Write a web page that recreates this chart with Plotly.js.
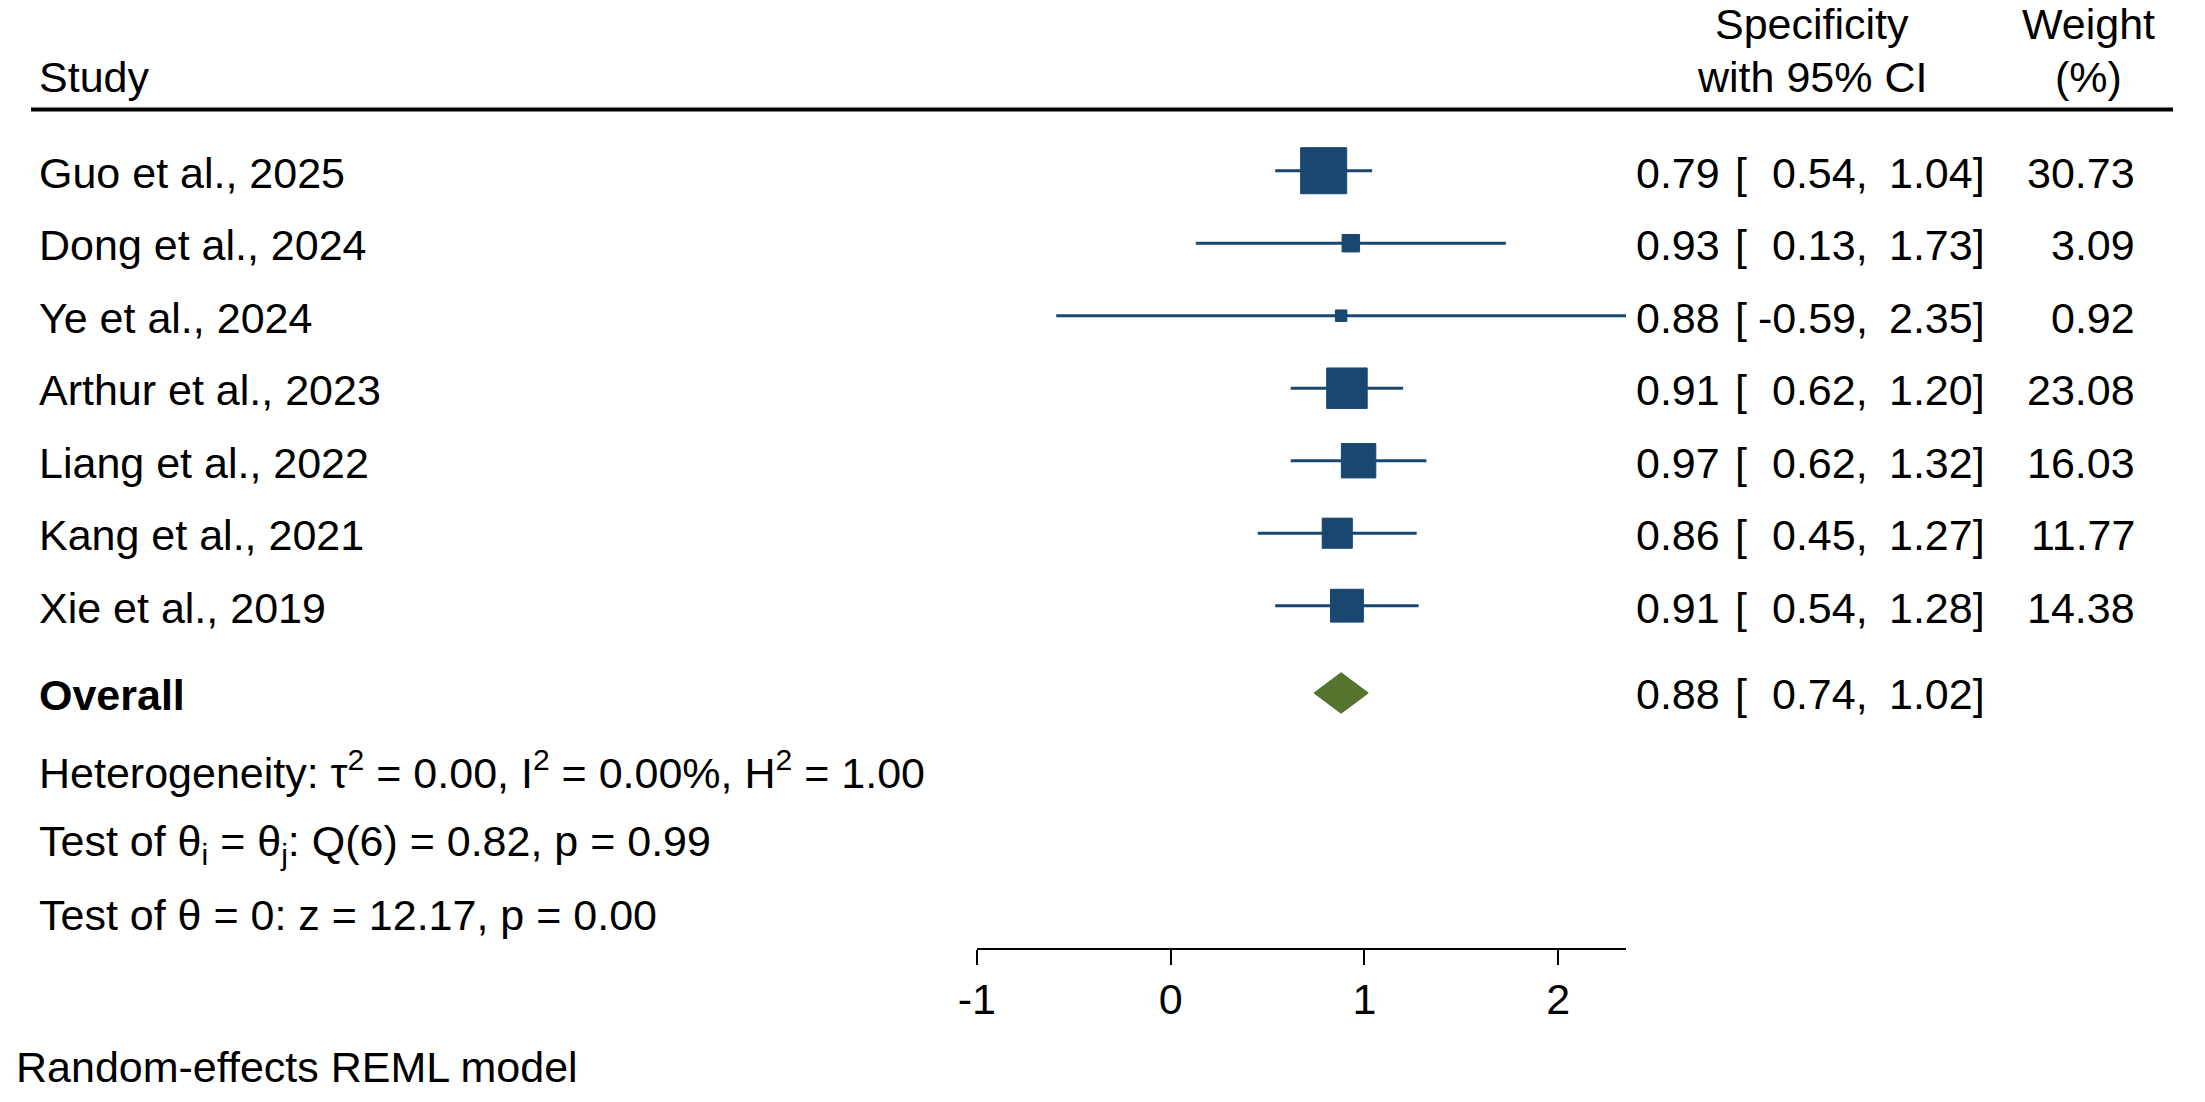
<!DOCTYPE html>
<html>
<head>
<meta charset="utf-8">
<script src="https://cdn.plot.ly/plotly-3.0.1.min.js"></script>
<style>html,body{margin:0;padding:0;background:#fff;}</style>
</head>
<body>
<div id="chart" style="width:2205px;height:1102px;"></div>
<script>
// Forest plot: study-level specificity with 95% CI, random-effects REML
const studies = ["Guo et al., 2025", "Dong et al., 2024", "Ye et al., 2024", "Arthur et al., 2023",
                 "Liang et al., 2022", "Kang et al., 2021", "Xie et al., 2019"];
const estimate = [0.79, 0.93, 0.88, 0.91, 0.97, 0.86, 0.91];
const ciLower  = [0.54, 0.13, -0.59, 0.62, 0.62, 0.45, 0.54];
const ciUpper  = [1.04, 1.73, 2.35, 1.20, 1.32, 1.27, 1.28];
const weights  = [30.73, 3.09, 0.92, 23.08, 16.03, 11.77, 14.38];

const overallEst = 0.88;
const overallLower = 0.74;
const overallUpper = 1.02;

const tickValues = [-1, 0, 1, 2];
const tickLabels = ["-1", "0", "1", "2"];

const headerEffect = ["Specificity", "with 95% CI"];
const headerWeight = ["Weight", "(%)"];
const statLines = [
  "Heterogeneity: \u03C4<sup>2</sup> = 0.00, I<sup>2</sup> = 0.00%, H<sup>2</sup> = 1.00",
  "Test of \u03B8<sub>i</sub> = \u03B8<sub>j</sub>: Q(6) = 0.82, p = 0.99",
  "Test of \u03B8 = 0: z = 12.17, p = 0.00"
];
const footNote = "Random-effects REML model";

// ---- geometry (page pixels) ----
const W = 2205, H = 1102;
const rowY = i => 170.7 + 72.5 * i;
const overallY = 693;
const statY = [770, 844, 915];
const NAVY = "#1a476f";
const GREEN = "#55752f";
const FONT = { family: "Liberation Sans, Arial, sans-serif", size: 43, color: "#000" };
const fmt = v => v.toFixed(2);

// ---- traces ----
const ciX = [], ciY = [];
estimate.forEach((_, i) => {
  ciX.push(ciLower[i], ciUpper[i], null);
  ciY.push(rowY(i), rowY(i), null);
});
const ciTrace = {
  type: "scatter", mode: "lines", x: ciX, y: ciY,
  line: { color: NAVY, width: 3 }, hoverinfo: "skip", showlegend: false
};
const boxTrace = {
  type: "scatter", mode: "markers",
  x: estimate, y: estimate.map((_, i) => rowY(i)),
  marker: {
    symbol: "square", color: NAVY, opacity: 1,
    size: weights.map(w => 4.25 + 7.54 * Math.sqrt(w)),
    line: { color: NAVY, width: 1 }
  },
  cliponaxis: false, showlegend: false
};
const diamondHalf = 20.3;
const diamondTrace = {
  type: "scatter", mode: "lines",
  x: [overallLower, overallEst, overallUpper, overallEst, overallLower],
  y: [overallY, overallY - diamondHalf, overallY, overallY + diamondHalf, overallY],
  fill: "toself", fillcolor: GREEN,
  line: { color: "#4d6b2a", width: 1 }, showlegend: false, hoverinfo: "skip"
};

// ---- text columns ----
const annotations = [];
function ann(text, x, y, xanchor, extra) {
  annotations.push(Object.assign({
    text: text, x: x / W, y: 1 - y / H, xref: "paper", yref: "paper",
    xanchor: xanchor, yanchor: "middle", showarrow: false,
    font: FONT, borderpad: 0
  }, extra || {}));
}

const TEXT_DY = 2;
ann("Study", 38, 77, "left");
ann(headerEffect[0], 1812, 24, "center");
ann(headerEffect[1], 1812, 77, "center");
ann(headerWeight[0], 2088, 24, "center");
ann(headerWeight[1], 2088, 77, "center");

function ciColumns(est, lo, hi, y) {
  ann(fmt(est), 1721, y, "right");
  ann("[", 1734, y, "left");
  ann(fmt(lo) + ",", 1869, y, "right");
  ann(fmt(hi) + "]", 1986, y, "right");
}

studies.forEach((s, i) => {
  const y = rowY(i) + TEXT_DY;
  ann(s, 38, y, "left");
  ciColumns(estimate[i], ciLower[i], ciUpper[i], y);
  ann(fmt(weights[i]), 2136, y, "right");
});

ann("<b>Overall</b>", 38, overallY + 2, "left");
ciColumns(overallEst, overallLower, overallUpper, overallY + 1);

statLines.forEach((t, i) => ann(t, 38, statY[i], "left"));
ann(footNote, 15, 1067, "left");

const layout = {
  width: W, height: H,
  margin: { l: 0, r: 0, t: 0, b: 0, pad: 0 },
  paper_bgcolor: "#fff", plot_bgcolor: "rgba(0,0,0,0)",
  showlegend: false,
  font: FONT,
  xaxis: {
    domain: [976.8 / W, 1626 / W], range: [-1, 2.35],
    anchor: "free", position: 1 - 949.3 / H,
    showline: true, linecolor: "#000", linewidth: 2,
    ticks: "outside", ticklen: 15, tickwidth: 2, tickcolor: "#000",
    tickmode: "array", tickvals: tickValues, ticktext: tickLabels,
    ticklabelstandoff: -3,
    tickfont: FONT, showgrid: false, zeroline: false, fixedrange: true
  },
  yaxis: { domain: [0, 1], range: [H, 0], visible: false, fixedrange: true },
  shapes: [{
    type: "line", xref: "paper", yref: "paper",
    x0: 31 / W, x1: 2173 / W, y0: 1 - 109.5 / H, y1: 1 - 109.5 / H,
    line: { color: "#000", width: 4 }
  }],
  annotations: annotations
};

Plotly.newPlot("chart", [ciTrace, diamondTrace, boxTrace], layout, { displayModeBar: false, staticPlot: true });
</script>
</body>
</html>
